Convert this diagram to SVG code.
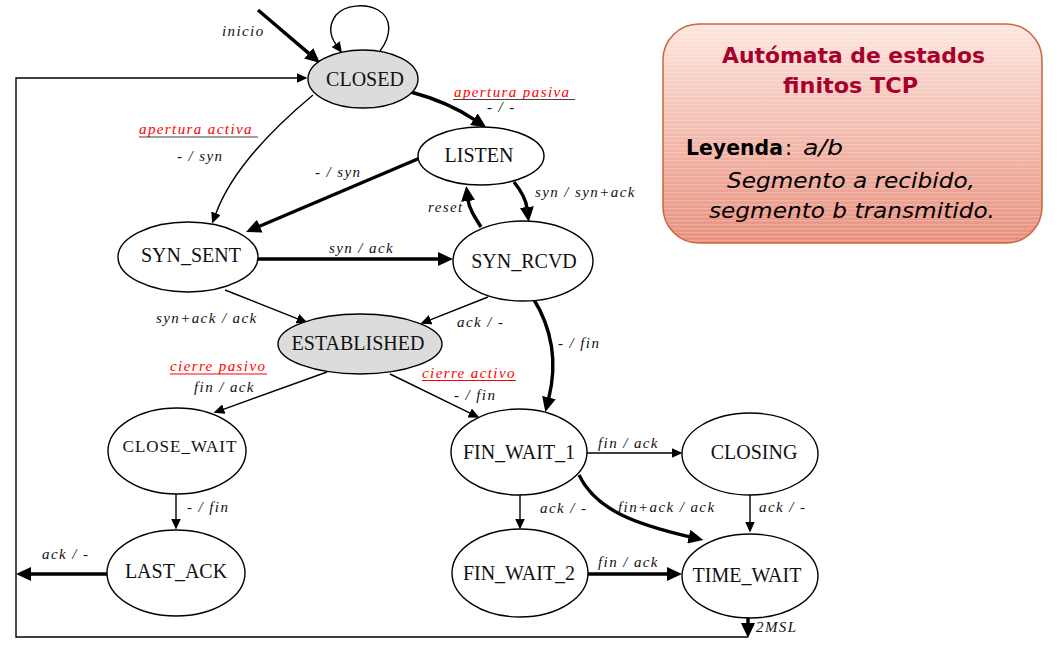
<svg xmlns="http://www.w3.org/2000/svg" width="1057" height="652" viewBox="0 0 1057 652">
<style>
.node ellipse{fill:#fff;stroke:#000;stroke-width:1.4}
.node.gray ellipse{fill:#dcdcdc}
.node text{font-family:"Liberation Serif","Times New Roman",serif;font-size:20px;text-anchor:middle;fill:#111}
.thin{fill:none;stroke:#000;stroke-width:1.4}
.thick{fill:none;stroke:#000;stroke-width:3.4}
.lbl{font-family:"Liberation Serif","Times New Roman",serif;font-style:italic;font-size:15px;letter-spacing:1.4px;fill:#111}
.red{fill:#ff0000}
.ul{stroke:#444;stroke-width:1.2}
.ulr{stroke:#ff0000;stroke-width:1.2}
.leg{font-family:"DejaVu Sans",sans-serif;font-size:21px}
</style>
<defs>
<marker id="ah" markerUnits="userSpaceOnUse" markerWidth="11" markerHeight="10" refX="0.5" refY="5" orient="auto"><path d="M0,0 L11,5 L0,10 z" fill="#000"/></marker>
<marker id="AH" markerUnits="userSpaceOnUse" markerWidth="15" markerHeight="14" refX="1" refY="7" orient="auto"><path d="M0,0 L15,7 L0,14 z" fill="#000"/></marker>
<linearGradient id="lg" x1="0" y1="0" x2="0" y2="1"><stop offset="0" stop-color="#fde6df"/><stop offset="1" stop-color="#e8907e"/></linearGradient>
<pattern id="stripes" width="8" height="4" patternUnits="userSpaceOnUse"><rect x="0" y="0" width="8" height="1.2" fill="#ffffff" fill-opacity="0.22"/></pattern>
</defs>

<g id="legend">
<rect x="663" y="24" width="379" height="219" rx="36" fill="url(#lg)"/>
<rect x="663" y="24" width="379" height="219" rx="36" fill="url(#stripes)" stroke="#c8673a" stroke-width="1.5"/>
<text class="leg" x="722" y="63" font-weight="bold" fill="#a8002c" textLength="263" lengthAdjust="spacingAndGlyphs">Autómata de estados</text>
<text class="leg" x="783" y="93" font-weight="bold" fill="#a8002c" textLength="135" lengthAdjust="spacingAndGlyphs">finitos TCP</text>
<text class="leg" x="686" y="155" font-weight="bold" textLength="97" lengthAdjust="spacingAndGlyphs">Leyenda</text>
<text class="leg" x="785" y="155">:</text>
<text class="leg" x="803" y="155" font-style="italic" textLength="40" lengthAdjust="spacingAndGlyphs">a/b</text>
<text class="leg" x="727" y="188" font-style="italic" textLength="248" lengthAdjust="spacingAndGlyphs">Segmento a recibido,</text>
<text class="leg" x="709" y="218" font-style="italic" textLength="286" lengthAdjust="spacingAndGlyphs">segmento b transmitido.</text>
</g>

<g id="connectors">
<path class="thick" d="M258,10 L309.4,53.9" marker-end="url(#AH)"/>
<path class="thin" d="M380,51 C392,35 392,18 378,10 C365,3 345,5 336,15 C328,26 330,36 336,44.5" marker-end="url(#ah)"/>
<path class="thin" d="M748,637 L16,637 L16,78 L297,78" stroke-width="1.8" marker-end="url(#ah)"/>
<path class="thick" d="M107,574 L30,574" marker-end="url(#AH)"/>
<path class="thick" d="M411,92 Q448,102 474.7,119.8" marker-end="url(#AH)"/>
<path class="thin" d="M313,95 C265,135 230,175 215.8,213.7" marker-end="url(#ah)"/>
<path class="thick" d="M420,158 L258.9,226.5" marker-end="url(#AH)"/>
<path class="thick" d="M514,182 C522,192 526,200 527,208" marker-end="url(#AH)"/>
<path class="thick" d="M481,227 C474,216 469,208 468,200" marker-end="url(#AH)"/>
<path class="thick" d="M258,259 L439,259" marker-end="url(#AH)"/>
<path class="thin" d="M225,290 L297.8,318.9" marker-end="url(#ah)"/>
<path class="thin" d="M488,297 L430.2,319.9" marker-end="url(#ah)"/>
<path class="thick" d="M533,298 C553,330 557,365 548.7,398.5" marker-end="url(#AH)"/>
<path class="thin" d="M327,372 L223.4,409.3" marker-end="url(#ah)"/>
<path class="thin" d="M390,374 L470.1,413.2" marker-end="url(#ah)"/>
<path class="thin" d="M176,494 L176,519" marker-end="url(#ah)"/>
<path class="thin" d="M587,453 L672,453" marker-end="url(#ah)"/>
<path class="thin" d="M520,495 L520,519" marker-end="url(#ah)"/>
<path class="thick" d="M579,475 C596,510 635,524 689.7,536.8" marker-end="url(#AH)"/>
<path class="thin" d="M750,495 L750,522" marker-end="url(#ah)"/>
<path class="thick" d="M588,574 L668,574" marker-end="url(#AH)"/>
<path class="thick" d="M748,617 L748,624" marker-end="url(#AH)"/>

<text class="lbl" x="222" y="36">inicio</text>
<text class="lbl red" x="454" y="97">apertura pasiva</text>
<line class="ul" x1="453" y1="99.5" x2="575" y2="99.5"/>
<text class="lbl" x="487" y="112">- /  -</text>
<text class="lbl red" x="139" y="134">apertura activa</text>
<line class="ul" x1="139" y1="137" x2="258" y2="137"/>
<text class="lbl" x="177" y="161">- / syn</text>
<text class="lbl" x="315" y="177">- / syn</text>
<text class="lbl" x="535" y="197">syn / syn+ack</text>
<text class="lbl" x="428" y="212">reset</text>
<text class="lbl" x="329" y="253">syn / ack</text>
<text class="lbl" x="156" y="323">syn+ack / ack</text>
<text class="lbl" x="457" y="327">ack / -</text>
<text class="lbl" x="558" y="348">- / fin</text>
<text class="lbl red" x="170" y="371">cierre pasivo</text>
<line class="ulr" x1="170" y1="374" x2="267" y2="374"/>
<text class="lbl" x="194" y="392">fin / ack</text>
<text class="lbl red" x="422" y="378">cierre activo</text>
<line class="ulr" x1="422" y1="380.5" x2="516" y2="380.5"/>
<text class="lbl" x="454" y="400">- /  fin</text>
<text class="lbl" x="187" y="512">- / fin</text>
<text class="lbl" x="42" y="559">ack / -</text>
<text class="lbl" x="598" y="448">fin / ack</text>
<text class="lbl" x="540" y="513">ack / -</text>
<text class="lbl" x="618" y="512">fin+ack / ack</text>
<text class="lbl" x="759" y="512">ack / -</text>
<text class="lbl" x="598" y="567">fin /  ack</text>
<text class="lbl" x="756" y="632">2MSL</text>
</g>

<g id="CLOSED" class="node gray"><ellipse cx="363" cy="79" rx="55" ry="29"/><text x="365" y="86">CLOSED</text></g>
<g id="LISTEN" class="node"><ellipse cx="481" cy="156" rx="63" ry="29"/><text x="479" y="162">LISTEN</text></g>
<g id="SYN_SENT" class="node"><ellipse cx="188" cy="257" rx="70" ry="35"/><text x="191" y="262">SYN_SENT</text></g>
<g id="SYN_RCVD" class="node"><ellipse cx="523" cy="261" rx="70" ry="40"/><text x="524" y="268">SYN_RCVD</text></g>
<g id="ESTABLISHED" class="node gray"><ellipse cx="360" cy="344" rx="82" ry="30"/><text x="358" y="350">ESTABLISHED</text></g>
<g id="CLOSE_WAIT" class="node"><ellipse cx="177" cy="451" rx="69" ry="43"/><text x="180" y="452" style="font-size:17px;letter-spacing:1px">CLOSE_WAIT</text></g>
<g id="LAST_ACK" class="node"><ellipse cx="176" cy="573" rx="69" ry="43"/><text x="176" y="578">LAST_ACK</text></g>
<g id="FIN_WAIT_1" class="node"><ellipse cx="519" cy="452" rx="68" ry="43"/><text x="519" y="459">FIN_WAIT_1</text></g>
<g id="FIN_WAIT_2" class="node"><ellipse cx="520" cy="573" rx="68" ry="44"/><text x="519" y="580">FIN_WAIT_2</text></g>
<g id="CLOSING" class="node"><ellipse cx="750" cy="454" rx="68" ry="41"/><text x="754" y="459">CLOSING</text></g>
<g id="TIME_WAIT" class="node"><ellipse cx="750" cy="576" rx="68" ry="42"/><text x="747" y="582">TIME_WAIT</text></g>
</svg>
